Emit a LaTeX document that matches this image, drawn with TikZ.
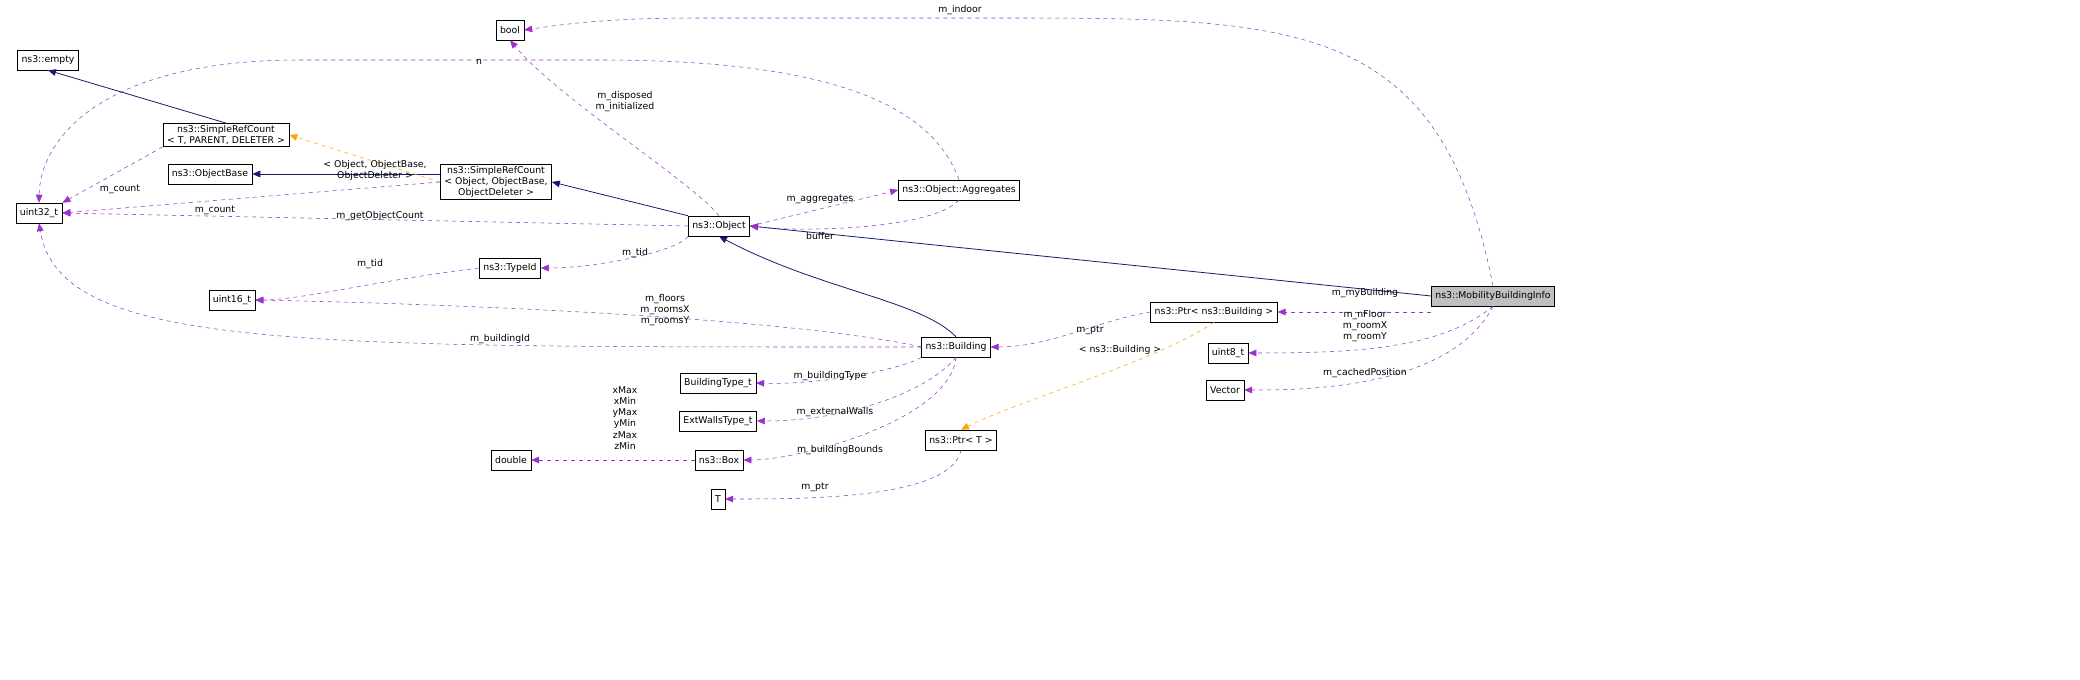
\documentclass[tikz,border=0pt]{standalone}
\usepackage{fontspec}
\setmainfont{DejaVu Sans}
\usepackage{xcolor}
\usetikzlibrary{arrows.meta,positioning}
\definecolor{inhcol}{HTML}{191970}
\definecolor{usecol}{HTML}{9A32CD}
\definecolor{tplcol}{HTML}{FFA500}

\begin{document}
\begin{tikzpicture}[
    x=0.75pt, y=-0.75pt,
    font=\fontsize{7}{8.3}\selectfont,
    cls/.style={draw, thin, inner xsep=3pt, inner ysep=1.5pt, minimum height=15pt, align=center},
    main/.style={cls, fill=black!25},
    inh/.style={draw=inhcol, semithick, -{Triangle[length=6pt,width=5pt]}},
    use/.style={draw=usecol, thin, dashed, -{Triangle[length=6pt,width=5pt,fill=usecol]}},
    tpl/.style={draw=tplcol, thin, dashed, -{Triangle[length=6pt,width=5pt,fill=tplcol]}},
    lbl/.style={align=center, inner sep=0}]
\useasboundingbox (0,0) rectangle (2080,680);

% classes
\node[main] (mbi)    at (1493,296) {ns3::MobilityBuildingInfo};
\node[cls]  (bool)   at (510,30)   {bool};
\node[cls]  (empty)  at (48,60)    {ns3::empty};
\node[cls]  (srcT)   at (226,135)  {ns3::SimpleRefCount\\< T, PARENT, DELETER >};
\node[cls]  (objb)   at (210,174)  {ns3::ObjectBase};
\node[cls]  (u32)    at (39,213)   {uint32\_t};
\node[cls]  (srcO)   at (496,182)  {ns3::SimpleRefCount\\< Object, ObjectBase,\\ObjectDeleter >};
\node[cls]  (obj)    at (719,226)  {ns3::Object};
\node[cls]  (aggr)   at (959,190)  {ns3::Object::Aggregates};
\node[cls]  (tid)    at (510,268)  {ns3::TypeId};
\node[cls]  (u16)    at (232,300)  {uint16\_t};
\node[cls]  (bld)    at (956,347)  {ns3::Building};
\node[cls]  (ptrB)   at (1214,312) {ns3::Ptr< ns3::Building >};
\node[cls]  (u8)     at (1228,353) {uint8\_t};
\node[cls]  (vec)    at (1225,390) {Vector};
\node[cls]  (btype)  at (718,383)  {BuildingType\_t};
\node[cls]  (ewtype) at (718,421)  {ExtWallsType\_t};
\node[cls]  (box)    at (719,460)  {ns3::Box};
\node[cls]  (dbl)    at (511,460)  {double};
\node[cls]  (ptrT)   at (961,440)  {ns3::Ptr< T >};
\node[cls]  (tT)     at (718,499)  {T};

% inheritance
\draw[inh] (srcT.north) -- (empty.south);
\draw[inh] (srcO.west |- objb) -- (objb.east);
\draw[inh] (obj.north west) -- (srcO.east);
\draw[inh] (bld.north) .. controls (920,300) and (820,290) .. (obj.south);
\draw[inh] (mbi.west) -- (obj.east);

% template instances
\draw[tpl] (srcO.west) -- (srcT.east);
\draw[tpl] (ptrB.south) .. controls (1160,360) and (1020,400) .. (ptrT.north);

% members
\draw[use] (mbi.north) .. controls (1440,20) and (1300,18) .. (1000,18) -- (700,18) .. controls (600,18) and (560,25) .. (bool.east);
\draw[use] (srcT.south west) -- (u32.north east);
\draw[use] (srcO.west) -- (u32.east);
\draw[use] (obj.north) .. controls (690,180) and (560,100) .. (bool.south);
\draw[use] (obj.west) -- (u32.east);
\draw[use] (obj.east) -- (aggr.west);
\draw[use] (aggr.south) .. controls (930,230) and (800,232) .. (obj.east);
\draw[use] (aggr.north) .. controls (930,100) and (820,60) .. (600,60) -- (300,60) .. controls (100,60) and (40,140) .. (u32.north);
\draw[use] (obj.south west) .. controls (680,250) and (600,268) .. (tid.east);
\draw[use] (tid.west) .. controls (380,280) and (300,300) .. (u16.east);
\draw[use] (bld.west) .. controls (800,320) and (500,305) .. (u16.east);
\draw[use] (bld.west) .. controls (300,347) and (60,350) .. (u32.south);
\draw[use] (bld.south west) .. controls (900,370) and (820,385) .. (btype.east);
\draw[use] (bld.south) .. controls (930,390) and (850,421) .. (ewtype.east);
\draw[use] (bld.south) .. controls (950,420) and (800,460) .. (box.east);
\draw[use] (box.west) -- (dbl.east);
\draw[use] (ptrB.west) .. controls (1100,320) and (1050,347) .. (bld.east);
\draw[use] (ptrT.south) .. controls (950,500) and (800,499) .. (tT.east);
\draw[use] (mbi.west |- ptrB) -- (ptrB.east);
\draw[use] (mbi.south) .. controls (1440,350) and (1350,353) .. (u8.east);
\draw[use] (mbi.south) .. controls (1450,390) and (1300,390) .. (vec.east);

% labels
\node[lbl] (lIndoor)  at (960,10)   {m\_indoor};
\node[lbl] (lN)       at (479,62)   {n};
\node[lbl] (lDisp)    at (625,102)  {m\_disposed\\m\_initialized};
\node[lbl] (lTplO)    at (375,170)  {< Object, ObjectBase,\\ObjectDeleter >};
\node[lbl] (lCnt1)    at (120,189)  {m\_count};
\node[lbl] (lCnt2)    at (215,210)  {m\_count};
\node[lbl] (lGoc)     at (380,216)  {m\_getObjectCount};
\node[lbl] (lAggr)    at (820,199)  {m\_aggregates};
\node[lbl] (lBuf)     at (820,236)  {buffer};
\node[lbl] (lTid1)    at (635,253)  {m\_tid};
\node[lbl] (lTid2)    at (370,264)  {m\_tid};
\node[lbl] (lFlr)     at (665,310)  {m\_floors\\m\_roomsX\\m\_roomsY};
\node[lbl] (lBid)     at (500,339)  {m\_buildingId};
\node[lbl] (lBt)      at (830,376)  {m\_buildingType};
\node[lbl] (lEw)      at (835,412)  {m\_externalWalls};
\node[lbl] (lBb)      at (840,450)  {m\_buildingBounds};
\node[lbl] (lXyz)     at (625,418)  {xMax\\xMin\\yMax\\yMin\\zMax\\zMin};
\node[lbl] (lPtr1)    at (1090,330) {m\_ptr};
\node[lbl] (lTplB)    at (1120,350) {< ns3::Building >};
\node[lbl] (lPtr2)    at (815,487)  {m\_ptr};
\node[lbl] (lMyB)     at (1365,293) {m\_myBuilding};
\node[lbl] (lRoom)    at (1365,326) {m\_nFloor\\m\_roomX\\m\_roomY};
\node[lbl] (lCache)   at (1365,373) {m\_cachedPosition};
\end{tikzpicture}
\end{document}
